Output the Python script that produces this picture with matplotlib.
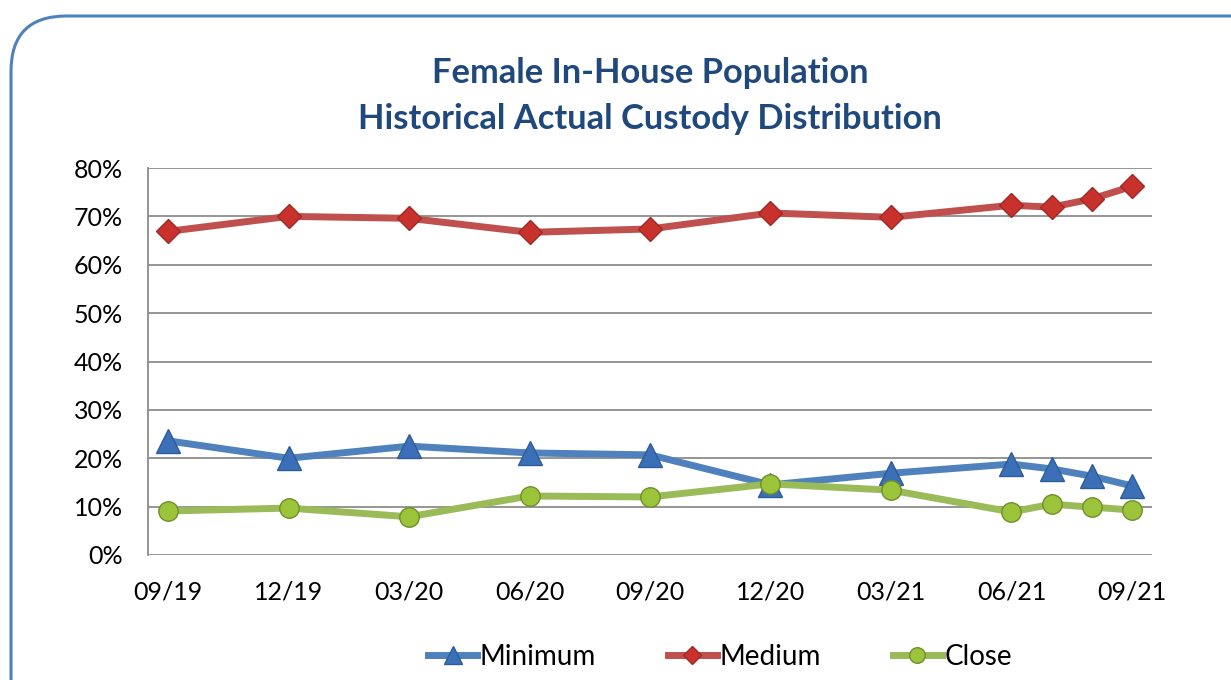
#!/usr/bin/env python3
"""Female in-house population: custody distribution over time."""

import matplotlib

matplotlib.use("Agg")
import matplotlib.pyplot as plt
from matplotlib.patches import FancyBboxPatch
from matplotlib.ticker import FuncFormatter, MultipleLocator

dates = ["09/19", "12/19", "03/20", "06/20", "09/20", "12/20",
         "03/21", "06/21", "07/21", "08/21", "09/21"]
minimum = [23.6, 20.0, 22.5, 21.1, 20.7, 14.5, 16.9, 18.8, 17.8, 16.3, 14.3]
medium = [66.9, 70.0, 69.6, 66.7, 67.4, 70.7, 69.8, 72.3, 71.9, 73.6, 76.2]
close = [9.1, 9.7, 7.9, 12.2, 12.0, 14.7, 13.4, 8.9, 10.5, 9.9, 9.3]
tick_labels = ["09/19", "12/19", "03/20", "06/20", "09/20", "12/20",
               "03/21", "06/21", "09/21"]

BLUE = "#4F81BD"
RED = "#C0504D"
GREEN = "#9BBB59"
TITLE_COLOR = "#1F497D"
FONT = "Lato"


def month_index(label: str) -> int:
    month, year = label.split("/")
    return (int(year) - 19) * 12 + int(month) - 9


x = [month_index(d) for d in dates]
xt = [month_index(t) for t in tick_labels]

fig = plt.figure(figsize=(12.31, 6.80), dpi=100)
frame = FancyBboxPatch(
    (11 / 1231, -0.5), 1.2, 1.5 - 16 / 680,
    boxstyle="round,pad=0,rounding_size=0.045",
    transform=fig.transFigure, facecolor="none", edgecolor=BLUE,
    linewidth=2.2, mutation_aspect=1231 / 680, zorder=-1,
)
fig.patches.append(frame)

ax = fig.add_axes([148 / 1231, 1 - 555 / 680, (1152 - 148) / 1231, (555 - 168) / 680])
ax.set_facecolor("none")

ax.plot(x, minimum, color=BLUE, linewidth=5, marker="^", markersize=17,
        markerfacecolor="#3B70B8", markeredgecolor="#2E5C99", markeredgewidth=1,
        label="Minimum", zorder=3)
ax.plot(x, medium, color=RED, linewidth=5, marker="D", markersize=12,
        markerfacecolor="#C8312C", markeredgecolor="#9E2A27", markeredgewidth=1,
        label="Medium", zorder=3)
ax.plot(x, close, color=GREEN, linewidth=5, marker="o", markersize=14,
        markerfacecolor="#9CC43A", markeredgecolor="#6E8F2A", markeredgewidth=1,
        label="Close", zorder=3)

ax.set_xlim(-0.5, 24.5)
ax.set_ylim(0, 80)
ax.yaxis.set_major_locator(MultipleLocator(10))
ax.yaxis.set_major_formatter(FuncFormatter(lambda v, _: f"{v:.0f}%"))
ax.set_xticks(xt)
ax.set_xticklabels(tick_labels)
ax.grid(True, axis="y", color="#8C8C8C", linewidth=1.3, zorder=1)
ax.set_axisbelow(True)
for side in ["top", "right", "bottom"]:
    ax.spines[side].set_visible(False)
ax.spines["left"].set_color("#8C8C8C")
ax.spines["left"].set_linewidth(1.3)
ax.tick_params(length=0, labelsize=18)
ax.tick_params(axis="x", pad=18)
ax.tick_params(axis="y", pad=18)
for lab in ax.get_xticklabels() + ax.get_yticklabels():
    lab.set_fontfamily(FONT)

fig.text(0.528, 1 - 73 / 680, "Female In-House Population", ha="center", va="center",
         fontsize=24.8, fontweight="bold", color=TITLE_COLOR, family=FONT)
fig.text(0.528, 1 - 119 / 680, "Historical Actual Custody Distribution", ha="center",
         va="center", fontsize=24.8, fontweight="bold", color=TITLE_COLOR, family=FONT)

fig.legend(loc="center", bbox_to_anchor=(0.585, 1 - 657 / 680), ncol=3, frameon=False,
           prop={"family": FONT, "size": 20}, handlelength=1.75, handletextpad=0.1,
           columnspacing=2.6, markerscale=0.8)

fig.savefig("out.png", dpi=100)
